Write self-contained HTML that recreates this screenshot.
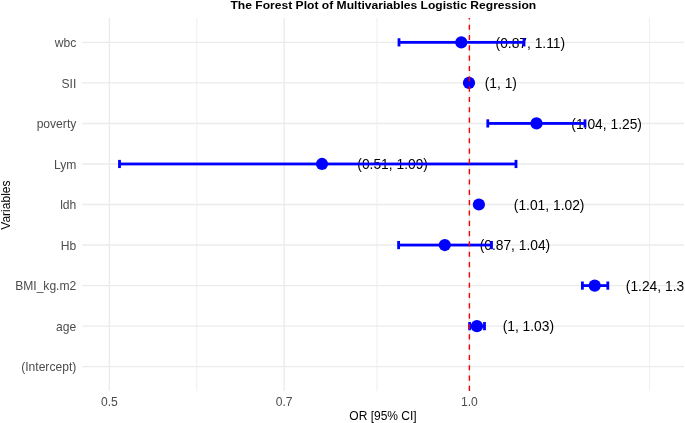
<!DOCTYPE html>
<html><head><meta charset="utf-8"><title>Forest Plot</title>
<style>html,body{margin:0;padding:0;background:#fff;width:685px;height:423px;overflow:hidden}svg{display:block}</style>
</head><body>
<svg width="685" height="423" viewBox="0 0 685 423">
<defs><clipPath id="pc"><rect x="0" y="0" width="684" height="423"/></clipPath></defs>
<rect width="685" height="423" fill="#fff"/>
<line x1="196.8" y1="18" x2="196.8" y2="391" stroke="#EBEBEB" stroke-width="0.8"/>
<line x1="376.9" y1="18" x2="376.9" y2="391" stroke="#EBEBEB" stroke-width="0.8"/>
<line x1="649.5" y1="18" x2="649.5" y2="391" stroke="#EBEBEB" stroke-width="0.8"/>
<line x1="82" y1="42.35" x2="684" y2="42.35" stroke="#EBEBEB" stroke-width="1.4"/>
<line x1="82" y1="82.89" x2="684" y2="82.89" stroke="#EBEBEB" stroke-width="1.4"/>
<line x1="82" y1="123.43" x2="684" y2="123.43" stroke="#EBEBEB" stroke-width="1.4"/>
<line x1="82" y1="163.97" x2="684" y2="163.97" stroke="#EBEBEB" stroke-width="1.4"/>
<line x1="82" y1="204.51" x2="684" y2="204.51" stroke="#EBEBEB" stroke-width="1.4"/>
<line x1="82" y1="245.05" x2="684" y2="245.05" stroke="#EBEBEB" stroke-width="1.4"/>
<line x1="82" y1="285.59" x2="684" y2="285.59" stroke="#EBEBEB" stroke-width="1.4"/>
<line x1="82" y1="326.13" x2="684" y2="326.13" stroke="#EBEBEB" stroke-width="1.4"/>
<line x1="82" y1="366.67" x2="684" y2="366.67" stroke="#EBEBEB" stroke-width="1.4"/>
<line x1="109.4" y1="18" x2="109.4" y2="391" stroke="#EBEBEB" stroke-width="1.4"/>
<line x1="284.2" y1="18" x2="284.2" y2="391" stroke="#EBEBEB" stroke-width="1.4"/>
<line x1="469.4" y1="18" x2="469.4" y2="391" stroke="#EBEBEB" stroke-width="1.4"/>
<text x="495.55" y="47.55" font-size="13.8" font-family="&apos;Liberation Sans&apos;, sans-serif" fill="#000" clip-path="url(#pc)">(0.87, 1.11)</text>
<text x="484.75" y="88.09" font-size="13.8" font-family="&apos;Liberation Sans&apos;, sans-serif" fill="#000" clip-path="url(#pc)">(1, 1)</text>
<text x="571.35" y="128.63" font-size="13.8" font-family="&apos;Liberation Sans&apos;, sans-serif" fill="#000" clip-path="url(#pc)">(1.04, 1.25)</text>
<text x="357.35" y="169.17" font-size="13.8" font-family="&apos;Liberation Sans&apos;, sans-serif" fill="#000" clip-path="url(#pc)">(0.51, 1.09)</text>
<text x="513.85" y="209.71" font-size="13.8" font-family="&apos;Liberation Sans&apos;, sans-serif" fill="#000" clip-path="url(#pc)">(1.01, 1.02)</text>
<text x="479.65" y="250.25" font-size="13.8" font-family="&apos;Liberation Sans&apos;, sans-serif" fill="#000" clip-path="url(#pc)">(0.87, 1.04)</text>
<text x="625.85" y="290.79" font-size="13.8" font-family="&apos;Liberation Sans&apos;, sans-serif" fill="#000" clip-path="url(#pc)">(1.24, 1.3)</text>
<text x="502.65" y="331.33" font-size="13.8" font-family="&apos;Liberation Sans&apos;, sans-serif" fill="#000" clip-path="url(#pc)">(1, 1.03)</text>
<rect x="399.00" y="40.95" width="125.00" height="2.8" fill="#00f"/>
<rect x="397.60" y="38.25" width="2.8" height="8.2" fill="#00f"/>
<rect x="522.60" y="38.25" width="2.8" height="8.2" fill="#00f"/>
<circle cx="461.3" cy="42.35" r="6.1" fill="#00f"/>
<circle cx="469.0" cy="82.89" r="6.1" fill="#00f"/>
<rect x="487.80" y="122.03" width="97.20" height="2.8" fill="#00f"/>
<rect x="486.40" y="119.33" width="2.8" height="8.2" fill="#00f"/>
<rect x="583.60" y="119.33" width="2.8" height="8.2" fill="#00f"/>
<circle cx="536.5" cy="123.43" r="6.1" fill="#00f"/>
<rect x="119.50" y="162.57" width="396.50" height="2.8" fill="#00f"/>
<rect x="118.10" y="159.87" width="2.8" height="8.2" fill="#00f"/>
<rect x="514.60" y="159.87" width="2.8" height="8.2" fill="#00f"/>
<circle cx="322.0" cy="163.97" r="6.1" fill="#00f"/>
<rect x="476.60" y="203.11" width="4.70" height="2.8" fill="#00f"/>
<rect x="475.20" y="200.41" width="2.8" height="8.2" fill="#00f"/>
<rect x="479.90" y="200.41" width="2.8" height="8.2" fill="#00f"/>
<circle cx="478.9" cy="204.51" r="6.1" fill="#00f"/>
<rect x="398.60" y="243.65" width="92.90" height="2.8" fill="#00f"/>
<rect x="397.20" y="240.95" width="2.8" height="8.2" fill="#00f"/>
<rect x="490.10" y="240.95" width="2.8" height="8.2" fill="#00f"/>
<circle cx="444.8" cy="245.05" r="6.1" fill="#00f"/>
<rect x="582.40" y="284.19" width="25.40" height="2.8" fill="#00f"/>
<rect x="581.00" y="281.49" width="2.8" height="8.2" fill="#00f"/>
<rect x="606.40" y="281.49" width="2.8" height="8.2" fill="#00f"/>
<circle cx="594.7" cy="285.59" r="6.1" fill="#00f"/>
<rect x="469.60" y="324.73" width="14.90" height="2.8" fill="#00f"/>
<rect x="468.20" y="322.03" width="2.8" height="8.2" fill="#00f"/>
<rect x="483.10" y="322.03" width="2.8" height="8.2" fill="#00f"/>
<circle cx="476.9" cy="326.13" r="6.1" fill="#00f"/>
<line x1="469.4" y1="391" x2="469.4" y2="18" stroke="#f00" stroke-width="1.4" stroke-dasharray="5.16 5.16"/>
<text x="76.3" y="47.10" font-size="12.1" font-family="&apos;Liberation Sans&apos;, sans-serif" fill="#4D4D4D" text-anchor="end">wbc</text>
<text x="76.3" y="87.64" font-size="12.1" font-family="&apos;Liberation Sans&apos;, sans-serif" fill="#4D4D4D" text-anchor="end">SII</text>
<text x="76.3" y="128.18" font-size="12.1" font-family="&apos;Liberation Sans&apos;, sans-serif" fill="#4D4D4D" text-anchor="end">poverty</text>
<text x="76.3" y="168.72" font-size="12.1" font-family="&apos;Liberation Sans&apos;, sans-serif" fill="#4D4D4D" text-anchor="end">Lym</text>
<text x="76.3" y="209.26" font-size="12.1" font-family="&apos;Liberation Sans&apos;, sans-serif" fill="#4D4D4D" text-anchor="end">ldh</text>
<text x="76.3" y="249.80" font-size="12.1" font-family="&apos;Liberation Sans&apos;, sans-serif" fill="#4D4D4D" text-anchor="end">Hb</text>
<text x="76.3" y="290.34" font-size="12.1" font-family="&apos;Liberation Sans&apos;, sans-serif" fill="#4D4D4D" text-anchor="end">BMI_kg.m2</text>
<text x="76.3" y="330.88" font-size="12.1" font-family="&apos;Liberation Sans&apos;, sans-serif" fill="#4D4D4D" text-anchor="end">age</text>
<text x="76.3" y="371.42" font-size="12.1" font-family="&apos;Liberation Sans&apos;, sans-serif" fill="#4D4D4D" text-anchor="end">(Intercept)</text>
<text x="109.4" y="406.2" font-size="12.1" font-family="&apos;Liberation Sans&apos;, sans-serif" fill="#4D4D4D" text-anchor="middle">0.5</text>
<text x="284.2" y="406.2" font-size="12.1" font-family="&apos;Liberation Sans&apos;, sans-serif" fill="#4D4D4D" text-anchor="middle">0.7</text>
<text x="469.4" y="406.2" font-size="12.1" font-family="&apos;Liberation Sans&apos;, sans-serif" fill="#4D4D4D" text-anchor="middle">1.0</text>
<text x="383" y="419.8" font-size="12" font-family="&apos;Liberation Sans&apos;, sans-serif" fill="#000" text-anchor="middle">OR [95% CI]</text>
<text transform="translate(9.9 205.1) rotate(-90)" x="0" y="0" font-size="12" font-family="&apos;Liberation Sans&apos;, sans-serif" fill="#000" text-anchor="middle">Variables</text>
<text transform="translate(383.3 8.95) scale(1.008 0.92)" font-size="12" font-family="&apos;Liberation Sans&apos;, sans-serif" font-weight="bold" fill="#000" text-anchor="middle">The Forest Plot of Multivariables Logistic Regression</text>
</svg>
</body></html>
